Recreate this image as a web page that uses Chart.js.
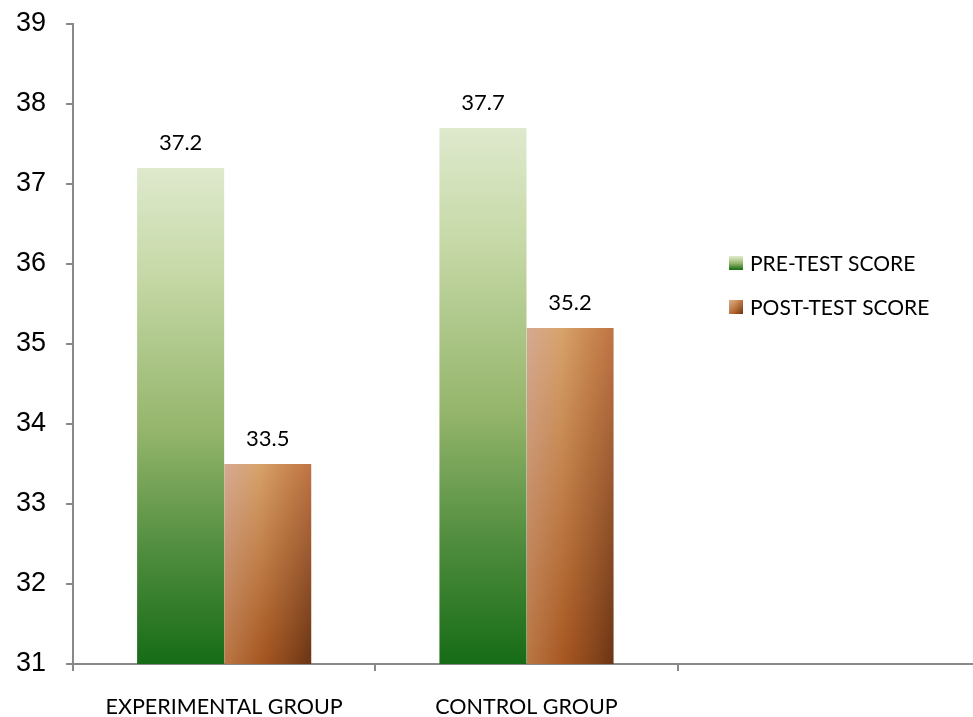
<!DOCTYPE html>
<html>
<head>
<meta charset="utf-8">
<script src="https://cdn.jsdelivr.net/npm/chart.js@4.4.1/dist/chart.umd.min.js"></script>
<style>
  html, body { margin: 0; padding: 0; background: #fff; overflow: hidden; }
  #wrap { width: 980px; height: 717px; }
</style>
</head>
<body>
<div id="wrap"><canvas id="chart" width="980" height="717"></canvas></div>
<script>
// Group labels (the third slot is left empty on purpose)
const categories = ['EXPERIMENTAL GROUP', 'CONTROL GROUP', ''];
// Mean scores per group
const preTestScores = [37.2, 37.7, null];
const postTestScores = [33.5, 35.2, null];
// Series names
const seriesNames = ['PRE-TEST SCORE', 'POST-TEST SCORE'];
// Y axis range
const yMin = 31, yMax = 39, yStep = 1;

const AXIS_GREY = '#898989';
const LABEL_FONT = 'Lato, "Open Sans", sans-serif';

// Vertical green shading, light at the top of the bar, deep green at its base
function greenFill(ctx, top, bottom) {
  const g = ctx.createLinearGradient(0, top, 0, bottom);
  g.addColorStop(0, '#dee9cd');
  g.addColorStop(0.2, '#c8daa9');
  g.addColorStop(0.53, '#94b56b');
  g.addColorStop(0.79, '#4b8a3b');
  g.addColorStop(1, '#166c16');
  return g;
}

// Copper shading: light tan on the left, darkening to the right and toward the base
function copperFill(ctx, x0, y0, w, h) {
  const W = Math.max(1, Math.ceil(w)), H = Math.max(1, Math.ceil(h));
  const c = document.createElement('canvas');
  c.width = W; c.height = H;
  const g = c.getContext('2d');
  const topRow = g.createLinearGradient(0, 0, W, 0);
  topRow.addColorStop(0, '#d5aa93');
  topRow.addColorStop(0.4, '#d8a36c');
  topRow.addColorStop(0.75, '#c98650');
  topRow.addColorStop(1, '#c07445');
  g.fillStyle = topRow;
  g.fillRect(0, 0, W, H);

  const b = document.createElement('canvas');
  b.width = W; b.height = H;
  const bg = b.getContext('2d');
  const bottomRow = bg.createLinearGradient(0, 0, W, 0);
  bottomRow.addColorStop(0, '#b97644');
  bottomRow.addColorStop(0.45, '#a4541f');
  bottomRow.addColorStop(0.75, '#86441a');
  bottomRow.addColorStop(1, '#673314');
  bg.fillStyle = bottomRow;
  bg.fillRect(0, 0, W, H);
  const mask = bg.createLinearGradient(0, 0, 0, H);
  mask.addColorStop(0, 'rgba(0,0,0,0)');
  mask.addColorStop(1, 'rgba(0,0,0,1)');
  bg.globalCompositeOperation = 'destination-in';
  bg.fillStyle = mask;
  bg.fillRect(0, 0, W, H);
  g.drawImage(b, 0, 0);

  const p = ctx.createPattern(c, 'no-repeat');
  p.setTransform(new DOMMatrix().translate(x0, y0));
  return p;
}

// Give every bar its own shading based on its visible geometry
const barShading = {
  id: 'barShading',
  beforeDatasetsDraw(chart) {
    const ctx = chart.ctx;
    const floor = chart.scales.y.getPixelForValue(yMin);
    chart.data.datasets.forEach((ds, di) => {
      const meta = chart.getDatasetMeta(di);
      meta.data.forEach((el, i) => {
        if (ds.data[i] == null) return;
        const { x, y, width } = el.getProps(['x', 'y', 'width'], true);
        const left = x - width / 2;
        const fill = di === 0
          ? greenFill(ctx, y, floor)
          : copperFill(ctx, left, y, width, floor - y);
        el.options = Object.assign({}, el.options, { backgroundColor: fill });
      });
    });
  }
};

// Value printed above each bar
const valueLabels = {
  id: 'valueLabels',
  afterDatasetsDraw(chart) {
    const ctx = chart.ctx;
    ctx.save();
    ctx.font = '22px ' + LABEL_FONT;
    ctx.fillStyle = '#000';
    ctx.textAlign = 'center';
    ctx.textBaseline = 'middle';
    chart.data.datasets.forEach((ds, di) => {
      chart.getDatasetMeta(di).data.forEach((el, i) => {
        const v = ds.data[i];
        if (v == null) return;
        ctx.fillText(v.toFixed(1), el.x, el.y - 25);
      });
    });
    ctx.restore();
  }
};

// Legend sitting inside the plot, to the right of the bars
const innerLegend = {
  id: 'innerLegend',
  afterDraw(chart) {
    const ctx = chart.ctx;
    const sx = 729, tx = 750, size = 14;
    const rows = [263, 307];
    ctx.save();
    ctx.font = '21px ' + LABEL_FONT;
    ctx.textAlign = 'left';
    ctx.textBaseline = 'middle';
    chart.data.datasets.forEach((ds, di) => {
      const cy = rows[di];
      const top = cy - size / 2;
      ctx.fillStyle = di === 0
        ? greenFill(ctx, top, top + size)
        : copperFill(ctx, sx, top, size, size);
      ctx.fillRect(sx, top, size, size);
      ctx.fillStyle = '#000';
      ctx.fillText(ds.label, tx, cy + 1);
    });
    ctx.restore();
  }
};

new Chart(document.getElementById('chart'), {
  type: 'bar',
  data: {
    labels: categories,
    datasets: [
      { label: seriesNames[0], data: preTestScores, backgroundColor: '#8cb26a', borderWidth: 0 },
      { label: seriesNames[1], data: postTestScores, backgroundColor: '#b8683a', borderWidth: 0 }
    ]
  },
  options: {
    responsive: false,
    animation: false,
    events: [],
    layout: { padding: { top: 24, left: 0, right: 0, bottom: 0 } },
    datasets: { bar: { categoryPercentage: 0.576, barPercentage: 1.0 } },
    plugins: { legend: { display: false }, tooltip: { enabled: false } },
    scales: {
      x: {
        grid: { drawOnChartArea: false, drawTicks: true, tickLength: 7, color: AXIS_GREY, lineWidth: 2, offset: true },
        border: { display: true, color: AXIS_GREY, width: 2 },
        ticks: {
          autoSkip: false, maxRotation: 0, minRotation: 0, padding: 23,
          color: '#000', font: { family: LABEL_FONT, size: 21.5 }
        },
        afterFit(scale) { scale.height = 53; scale.paddingLeft = 0; scale.paddingRight = 0; }
      },
      y: {
        min: yMin, max: yMax,
        grid: { drawOnChartArea: false, drawTicks: true, tickLength: 7, color: AXIS_GREY, lineWidth: 2 },
        border: { display: true, color: AXIS_GREY, width: 2 },
        ticks: {
          stepSize: yStep, padding: 20, color: '#000',
          font: { family: '"Liberation Sans", Arial, sans-serif', size: 27 }
        },
        afterFit(scale) { scale.width = 73; scale.paddingTop = 0; scale.paddingBottom = 0; }
      }
    }
  },
  plugins: [barShading, valueLabels, innerLegend]
});
</script>
</body>
</html>
